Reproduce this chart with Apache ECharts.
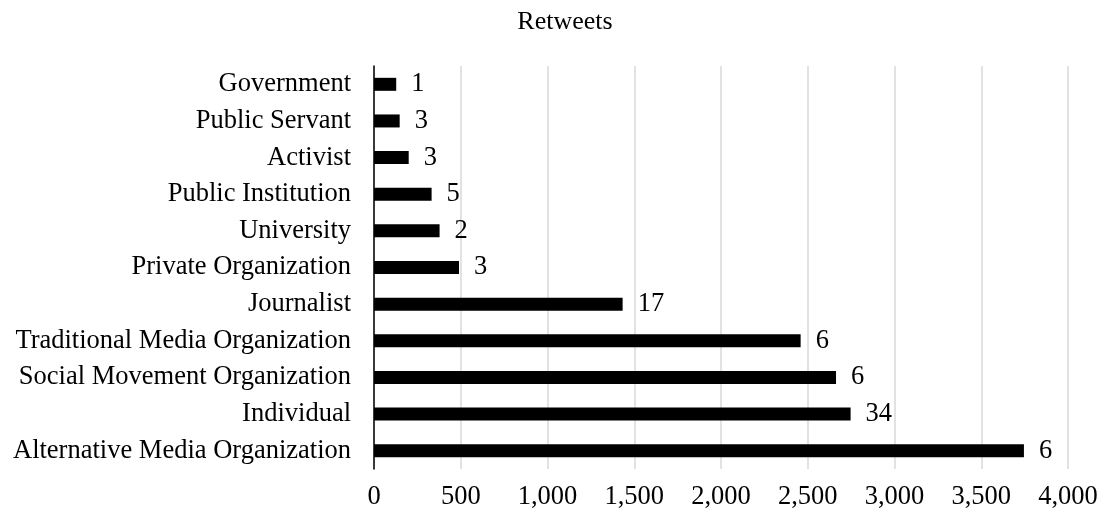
<!DOCTYPE html>
<html>
<head>
<meta charset="utf-8">
<script src="https://cdn.jsdelivr.net/npm/echarts@6/dist/echarts.min.js"></script>
<style>
html, body { margin: 0; padding: 0; background: #fff; }
#chart { width: 1107px; height: 517px; }
</style>
</head>
<body>
<div id="chart"></div>
<script>
// 类别（从上到下）
var categories = ['Government', 'Public Servant', 'Activist', 'Public Institution', 'University',
	'Private Organization', 'Journalist', 'Traditional Media Organization',
	'Social Movement Organization', 'Individual', 'Alternative Media Organization'];
// 转发数
var retweets = [128, 148, 200, 332, 378, 490, 1433, 2459, 2663, 2747, 3746];
// 柱子旁的数字标签
var counts = [1, 3, 3, 5, 2, 3, 17, 6, 6, 34, 6];
var xTicks = [0, 500, 1000, 1500, 2000, 2500, 3000, 3500, 4000];

var font = '"Liberation Serif", "Times New Roman", serif';
var fs = 26.5;

var myChart = echarts.init(document.getElementById('chart'));
var option = {
	backgroundColor: '#fff',
	animation: false,
	title: {
		text: 'Retweets',
		left: 560,
		textAlign: 'center',
		top: 4,
		textStyle: {
			fontFamily: font,
			fontWeight: 'normal',
			fontSize: 26,
			color: '#000'
		}
	},
	grid: {
		left: 374,
		right: 39,
		top: 66,
		bottom: 48
	},
	xAxis: {
		type: 'value',
		min: xTicks[0],
		max: xTicks[xTicks.length - 1],
		interval: 500,
		axisLine: { show: false },
		axisTick: { show: false },
		splitLine: {
			lineStyle: { color: '#d9d9d9', width: 1.5 }
		},
		axisLabel: {
			fontFamily: font,
			fontSize: fs,
			color: '#000',
			margin: 15,
			formatter: function(v) {
				return v.toLocaleString('en-US');
			}
		}
	},
	yAxis: {
		type: 'category',
		inverse: true,
		data: categories,
		axisLine: { lineStyle: { color: '#000', width: 1.5 } },
		axisTick: { show: false },
		axisLabel: {
			fontFamily: font,
			fontSize: fs,
			color: '#000',
			margin: 23
		}
	},
	series: [{
		type: 'bar',
		data: retweets,
		barWidth: 13,
		itemStyle: { color: '#000' },
		label: {
			show: true,
			position: 'right',
			distance: 15,
			fontFamily: font,
			fontSize: fs,
			color: '#000',
			formatter: function(p) {
				return counts[p.dataIndex];
			}
		}
	}]
};
myChart.setOption(option);
</script>
</body>
</html>
